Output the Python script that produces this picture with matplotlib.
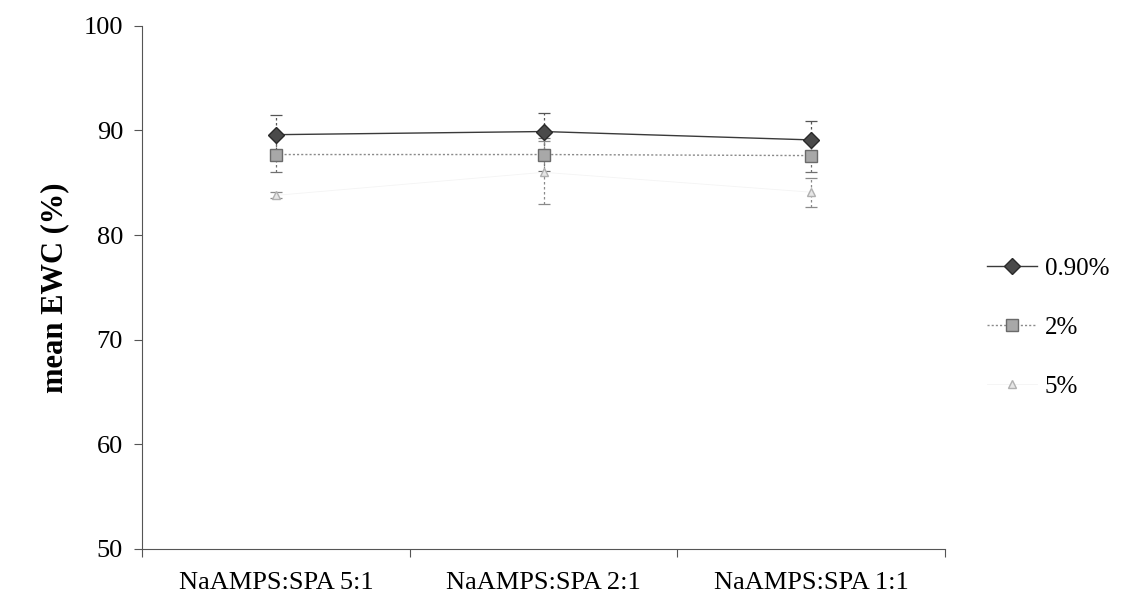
import matplotlib
matplotlib.use("Agg")
import matplotlib.pyplot as plt
from matplotlib.ticker import FixedLocator

plt.rcParams['font.family'] = ['Liberation Serif', 'DejaVu Serif']

# Data: mean equilibrium water content by monomer ratio and salt concentration
categories = ['NaAMPS:SPA 5:1', 'NaAMPS:SPA 2:1', 'NaAMPS:SPA 1:1']
series_labels = ['0.90%', '2%', '5%']
ewc_090 = [89.6, 89.9, 89.1]
err_090 = [1.9, 1.8, 1.8]
ewc_2 = [87.7, 87.7, 87.6]
err_2 = [1.7, 1.6, 1.6]
ewc_5 = [83.8, 86.0, 84.1]
err_5 = [0.3, 3.0, 1.4]
y_ticks = [50, 60, 70, 80, 90, 100]

fig = plt.figure(figsize=(11.22, 6.03), dpi=100)
ax = fig.add_axes([0.127, 0.09, 0.715, 0.867])

x = list(range(len(categories)))

styles = [
    dict(values=ewc_090, errs=err_090, label=series_labels[0], marker='D', ms=8,
         mfc='#4a4a4a', mec='#2a2a2a', color='#3a3a3a', ls='-', lw=1.0, ecolor='#555555'),
    dict(values=ewc_2, errs=err_2, label=series_labels[1], marker='s', ms=9,
         mfc='#a8a8a8', mec='#6a6a6a', color='#8a8a8a', ls=(0, (1.5, 1.5)), lw=1.0, ecolor='#707070'),
    dict(values=ewc_5, errs=err_5, label=series_labels[2], marker='^', ms=6,
         mfc='#e6e6e6', mec='#b0b0b0', color='#f4f4f4', ls='-', lw=0.6, ecolor='#8a8a8a'),
]

handles = []
for s in styles:
    cont = ax.errorbar(x, s['values'], yerr=s['errs'], marker=s['marker'], ms=s['ms'],
                       mfc=s['mfc'], mec=s['mec'], color=s['color'], ls=s['ls'], lw=s['lw'],
                       ecolor=s['ecolor'], elinewidth=0.9, capsize=4, capthick=0.9,
                       label=s['label'], zorder=3)
    for line in cont[2]:
        line.set_linestyle((0, (2, 2)))
    handles.append(cont[0])

ax.set_xlim(-0.5, 2.5)
ax.set_ylim(50, 100)
ax.set_yticks(y_ticks)
ax.set_xticks(x)
ax.set_xticklabels(categories)
ax.xaxis.set_minor_locator(FixedLocator([-0.5, 0.5, 1.5, 2.5]))
ax.tick_params(axis='x', which='major', length=0, pad=17, labelsize=19)
ax.tick_params(axis='x', which='minor', length=6, width=0.8, color='#555555')
ax.tick_params(axis='y', length=6, width=0.8, color='#555555', labelsize=19, pad=8)

for side in ('top', 'right'):
    ax.spines[side].set_visible(False)
for side in ('left', 'bottom'):
    ax.spines[side].set_color('#555555')
    ax.spines[side].set_linewidth(0.8)

ax.set_ylabel('mean EWC (%)', fontsize=22, fontweight='bold', labelpad=10)

fig.legend(handles=handles, labels=series_labels, loc='upper left',
           bbox_to_anchor=(0.86, 0.61), frameon=False, fontsize=18,
           handlelength=2.0, handletextpad=0.3, labelspacing=1.45)

fig.savefig('out.png', dpi=100, facecolor='white')
